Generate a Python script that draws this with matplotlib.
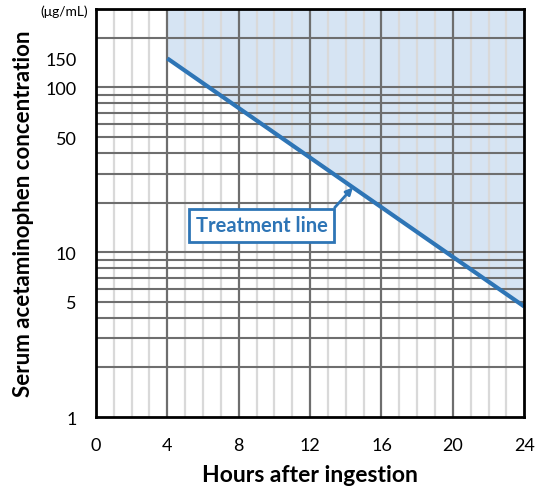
import matplotlib
matplotlib.use("Agg")
import matplotlib.pyplot as plt
import numpy as np
from matplotlib.ticker import FixedLocator, NullFormatter

plt.rcParams['font.family'] = ['Lato', 'DejaVu Sans']

# Data
line_hours = [4, 24]
line_conc = [150, 4.6875]
x_ticks = [0, 4, 8, 12, 16, 20, 24]
y_ticks = [1, 5, 10, 50, 100, 150]
y_tick_labels = ["1", "5", "10", "50", "100", "150"]
y_grid = [2, 3, 4, 5, 6, 7, 8, 9, 10, 20, 30, 40, 50, 60, 70, 80, 90, 100, 200]
annot_point = (14.4, 150 * 2 ** (-(14.4 - 4) / 4))
annot_text_pos = (9.3, 14.6)

fig = plt.figure(figsize=(5.36, 4.89), dpi=100)
ax = fig.add_axes([0.179, 0.145, 0.799, 0.835])
ax.set_yscale('log')
ax.set_xlim(0, 24)
ax.set_ylim(1, 300)

# shading above line
xs = np.linspace(line_hours[0], line_hours[1], 100)
ys = np.exp(np.interp(xs, line_hours, np.log(line_conc)))
ax.fill_between(xs, ys, 300, color='#d6e4f3', zorder=0)

# grid
for h in range(1, 24):
    if h % 4 == 0:
        ax.axvline(h, color='#6e6e6e', lw=1.6, zorder=1)
    else:
        ax.axvline(h, color='#d9d9d9', lw=1.6, zorder=1)
for g in y_grid:
    ax.axhline(g, color='#6e6e6e', lw=1.5, zorder=1.1)

ax.plot(line_hours, line_conc, color='#2e75b6', lw=3, zorder=3, solid_capstyle='butt')

ax.annotate("Treatment line", xy=annot_point, xytext=annot_text_pos,
            ha='center', va='center', fontsize=14.5, fontweight='bold', color='#2e75b6',
            bbox=dict(boxstyle='square,pad=0.33', fc='white', ec='#2e75b6', lw=2),
            arrowprops=dict(arrowstyle='-|>', color='#2e75b6', lw=2, shrinkA=0, shrinkB=0,
                            mutation_scale=10,
                            relpos=(1.0, 1.0)),
            zorder=4)

ax.set_xticks(x_ticks)
ax.set_xticklabels([str(t) for t in x_ticks], fontsize=13)
ax.yaxis.set_major_locator(FixedLocator(y_ticks))
ax.set_yticklabels(y_tick_labels, fontsize=13)
ax.yaxis.set_minor_locator(FixedLocator([]))
ax.yaxis.set_minor_formatter(NullFormatter())
ax.tick_params(axis='y', length=0, pad=14)
ax.tick_params(axis='x', length=0, pad=14)

for s in ax.spines.values():
    s.set_linewidth(2)
    s.set_color('black')
    s.set_zorder(5)

ax.set_xlabel("Hours after ingestion", fontsize=16.5, fontweight='bold', labelpad=8)
ax.set_ylabel("Serum acetaminophen concentration", fontsize=16, fontweight='bold', labelpad=8)
fig.text(0.12, 0.975, "(\u03bcg/mL)", fontsize=10, ha='center', va='center')

fig.savefig("out.png", dpi=100)
